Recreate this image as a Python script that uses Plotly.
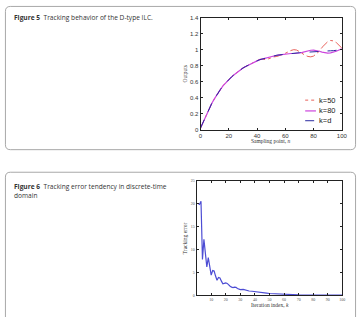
import plotly.graph_objects as go

W, H = 364, 317

# ---------------- Figure 5 data ----------------
n_pts = [0, 2, 4, 6, 8, 10, 12, 14, 16, 18, 20, 22, 24, 26, 28, 30, 32, 34, 36, 38,
         40, 42, 44, 46, 48, 50, 52, 54, 56, 58, 60, 62, 64, 66, 68, 70, 72, 74, 76, 78,
         80, 82, 84, 86, 88, 90, 92, 94, 96, 98, 100]
k_d = [0.02, 0.10, 0.18, 0.26, 0.33, 0.39, 0.45, 0.50, 0.55, 0.59, 0.63, 0.66, 0.69, 0.72,
       0.75, 0.77, 0.79, 0.81, 0.83, 0.85, 0.86, 0.875, 0.885, 0.895, 0.905, 0.915, 0.92,
       0.93, 0.935, 0.94, 0.945, 0.95, 0.953, 0.956, 0.96, 0.962, 0.965, 0.968, 0.97, 0.972,
       0.975, 0.977, 0.979, 0.98, 0.982, 0.984, 0.986, 0.988, 0.99, 0.995, 1.0]
k_80 = [0.02, 0.10, 0.18, 0.26, 0.33, 0.39, 0.45, 0.50, 0.55, 0.59, 0.63, 0.66, 0.69, 0.72,
        0.75, 0.77, 0.79, 0.81, 0.83, 0.85, 0.86, 0.875, 0.885, 0.895, 0.905, 0.915, 0.92,
        0.93, 0.935, 0.94, 0.948, 0.952, 0.952, 0.952, 0.953, 0.958, 0.966, 0.976, 0.986,
        0.993, 0.995, 0.99, 0.98, 0.97, 0.962, 0.958, 0.96, 0.968, 0.98, 0.995, 1.01]
k_50 = [0.02, 0.10, 0.18, 0.26, 0.33, 0.39, 0.45, 0.50, 0.55, 0.59, 0.63, 0.66, 0.69, 0.72,
        0.75, 0.77, 0.79, 0.81, 0.83, 0.85, 0.86, 0.88, 0.88, 0.875, 0.885, 0.90, 0.91,
        0.915, 0.925, 0.94, 0.955, 0.975, 0.99, 1.0, 0.995, 0.975, 0.95, 0.93, 0.915, 0.91,
        0.92, 0.945, 0.98, 1.03, 1.07, 1.10, 1.115, 1.11, 1.09, 1.06, 1.02]
fig5_x_ticks = [0, 20, 40, 60, 80, 100]
fig5_y_ticks = [0, 0.2, 0.4, 0.6, 0.8, 1, 1.2, 1.4]
fig5_y_labels = ["0", "0.2", "0.4", "0.6", "0.8", "1", "1.2", "1.4"]
legend_names = ["k=50", "k=80", "k=d"]

# ---------------- Figure 6 data ----------------
iter_k = [1, 2, 3, 4, 5, 6, 7, 8, 9, 10, 11, 12, 13, 14, 15, 16, 17, 18, 19, 20,
          21, 22, 23, 24, 25, 26, 27, 28, 29, 30, 32, 34, 36, 38, 40, 42, 44, 46, 48, 50,
          55, 60, 65, 70, 75, 80, 85, 90, 95, 100]
track_err = [20.0, 19.8, 20.5, 7.8, 12.2, 8.4, 6.2, 8.2, 5.8, 4.4, 5.4, 5.3, 4.2, 3.3,
             3.9, 3.8, 3.1, 2.5, 2.6, 2.7, 2.6, 2.2, 2.0, 1.8, 1.7, 1.8, 1.75, 1.5, 1.3,
             1.25, 1.3, 1.1, 0.95, 0.9, 0.85, 0.7, 0.6, 0.55, 0.5, 0.4, 0.3, 0.22, 0.15,
             0.1, 0.08, 0.06, 0.05, 0.04, 0.03, 0.03]
fig6_x_ticks = [10, 20, 30, 40, 50, 60, 70, 80, 90, 100]
fig6_y_ticks = [0, 5, 10, 15, 20, 25]


def px(x):
    return x / W


def py(y):
    return 1 - y / H


styles = [dict(color="#e8605a", width=1, dash="dashdot"),
          dict(color="#cc44dd", width=1.2, dash="solid"),
          dict(color="#2a2aa0", width=1, dash="dash")]

fig = go.Figure()
for name, ys, st in zip(legend_names, [k_50, k_80, k_d], styles):
    fig.add_trace(go.Scatter(x=n_pts, y=ys, name=name, mode="lines", line=st,
                             showlegend=False, xaxis="x", yaxis="y"))
fig.add_trace(go.Scatter(x=iter_k, y=track_err, name="error", mode="lines",
                         line=dict(color="#4d4dd4", width=1.2), showlegend=False,
                         xaxis="x2", yaxis="y2"))

axis_common = dict(showgrid=False, zeroline=False, showline=True, linecolor="#222",
                   linewidth=1, mirror="allticks", ticks="inside", ticklen=2,
                   tickcolor="#222")

fig.update_layout(
    width=W, height=H,
    margin=dict(l=0, r=0, t=0, b=0),
    paper_bgcolor="white", plot_bgcolor="white",
    showlegend=False,
    xaxis=dict(domain=[px(203), px(347.5)], range=[0, 100], tickvals=fig5_x_ticks,
               tickfont=dict(family="Liberation Sans", size=6, color="#333"),
               anchor="y", **axis_common),
    yaxis=dict(domain=[py(129), py(15)], range=[0, 1.4], tickvals=fig5_y_ticks,
               ticktext=fig5_y_labels,
               tickfont=dict(family="Liberation Sans", size=6, color="#333"),
               anchor="x", **axis_common),
    xaxis2=dict(domain=[px(199), px(348)], range=[0, 100], tickvals=fig6_x_ticks,
                tickfont=dict(family="Liberation Serif", size=4, color="#555"),
                anchor="y2", **axis_common),
    yaxis2=dict(domain=[py(298), py(181)], range=[0, 25], tickvals=fig6_y_ticks,
                tickfont=dict(family="Liberation Serif", size=4, color="#555"),
                anchor="x2", **axis_common),
)


def rounded_box(x0, y0, x1, y1, r):
    X0, X1 = px(x0), px(x1)
    Y0, Y1 = py(y0), py(y1)
    rx, ry = r / W, r / H
    return (f"M {X0+rx},{Y0} L {X1-rx},{Y0} Q {X1},{Y0} {X1},{Y0-ry} "
            f"L {X1},{Y1+ry} Q {X1},{Y1} {X1-rx},{Y1} L {X0+rx},{Y1} "
            f"Q {X0},{Y1} {X0},{Y1+ry} L {X0},{Y0-ry} Q {X0},{Y0} {X0+rx},{Y0} Z")


fig.add_shape(type="path", xref="paper", yref="paper",
              path=rounded_box(3.5, 3.5, 361.5, 149.5, 5),
              line=dict(color="#a8a8a8", width=1), layer="below")
fig.add_shape(type="path", xref="paper", yref="paper",
              path=rounded_box(3.5, 172.5, 361.5, 330, 5),
              line=dict(color="#a8a8a8", width=1), layer="below")

# manual legend (short line samples like the reference)
leg_rows = [99, 110, 120]
annots = []
for name, st, yy in zip(legend_names, styles, leg_rows):
    fig.add_shape(type="line", xref="paper", yref="paper",
                  x0=px(310), x1=px(321), y0=py(yy), y1=py(yy),
                  line=dict(color=st["color"], width=st["width"],
                            dash="dot" if st["dash"] == "dashdot" else st["dash"]))
    annots.append(dict(x=px(322), y=py(yy), text=name, xanchor="left", yanchor="middle",
                       font=dict(family="Liberation Sans", size=7.5, color="#222")))

cap_font = dict(family="Open Sans", size=6.6, color="#333")
annots += [
    dict(x=px(10), y=py(15), text="<b>Figure 5</b>  Tracking behavior of the D-type ILC.",
         xanchor="left", yanchor="middle", font=cap_font),
    dict(x=px(10), y=py(180.5), text="<b>Figure 6</b>  Tracking error tendency in discrete-time<br>domain",
         xanchor="left", yanchor="top", align="left", font=cap_font),
    dict(x=px(275), y=py(141), text="Sampling point, <i>n</i>",
         xanchor="center", yanchor="middle",
         font=dict(family="Liberation Serif", size=5.5, color="#333")),
    dict(x=px(187), y=py(72), text="Outputs", textangle=-90,
         xanchor="center", yanchor="middle",
         font=dict(family="Liberation Serif", size=5.5, color="#333")),
    dict(x=px(274), y=py(308), text="Iteration index, <i>k</i>",
         xanchor="center", yanchor="middle",
         font=dict(family="Liberation Serif", size=5.5, color="#333")),
    dict(x=px(188), y=py(240), text="Tracking error", textangle=-90,
         xanchor="center", yanchor="middle",
         font=dict(family="Liberation Serif", size=5.5, color="#333")),
]
for a in annots:
    a.update(xref="paper", yref="paper", showarrow=False)
fig.update_layout(annotations=annots)

fig.write_html("out.html")
